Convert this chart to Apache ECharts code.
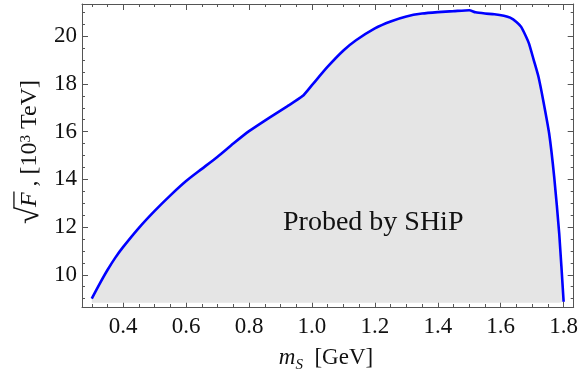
<!DOCTYPE html>
<html>
<head>
<meta charset="utf-8">
<script src="https://cdn.jsdelivr.net/npm/echarts@6/dist/echarts.min.js"></script>
<style>html,body{margin:0;padding:0;background:#fff}#c{width:581px;height:374px}</style>
</head>
<body>
<div id="c"></div>
<script>
// Data
const mS = [0.30,0.325,0.35,0.375,0.40,0.45,0.50,0.55,0.60,0.65,0.70,0.75,0.80,0.865,0.92,0.97,1.00,1.05,1.10,1.14,1.20,1.25,1.30,1.35,1.40,1.45,1.50,1.52,1.55,1.58,1.61,1.63,1.65,1.665,1.68,1.69,1.705,1.72,1.735,1.754,1.77,1.786,1.80];
const sqrtF = [9.0,9.62,10.2,10.72,11.17,11.97,12.68,13.33,13.93,14.44,14.95,15.5,16.02,16.59,17.05,17.49,17.95,18.72,19.4,19.83,20.33,20.62,20.83,20.95,21.01,21.05,21.09,21.0,20.95,20.92,20.86,20.78,20.6,20.39,20.0,19.69,19.0,18.3,17.32,15.92,14.1,11.73,8.87];
const xMajor = [0.4,0.6,0.8,1.0,1.2,1.4,1.6,1.8];
const xMinor = [0.3,0.35,0.45,0.5,0.55,0.65,0.7,0.75,0.85,0.9,0.95,1.05,1.1,1.15,1.25,1.3,1.35,1.45,1.5,1.55,1.65,1.7,1.75];
const yMajor = [10,12,14,16,18,20];
const yMinor = [9,9.5,10.5,11,11.5,12.5,13,13.5,14.5,15,15.5,16.5,17,17.5,18.5,19,19.5,20.5,21];
const xRange = [0.269, 1.832];
const yRange = [8.65, 21.35];
const fillBase = 8.83;
const annotation = 'Probed by SHiP';

const FONT = 'Liberation Serif';
const frameColor = '#555';
const TXT = '#111';

// measure tokens for the y-axis label so the radical's bar covers F
const ctx = document.createElement('canvas').getContext('2d');
function meas(t, size, italic) {
  ctx.font = (italic ? 'italic ' : '') + size + 'px "' + FONT + '"';
  ctx.textBaseline = 'middle';
  return ctx.measureText(t);
}
const RS = 31, NS = 24, SS = 15;
const mR = meas('√', RS), mF = meas('F', NS, true);
const wR = mR.width, wF = mF.width;
const wN1 = meas(' , [10', NS).width, wS = meas('3', SS).width, wN2 = meas(' TeV]', NS).width;
const Wtot = wR + wF + wN1 + wS + wN2;
const barY = -mR.actualBoundingBoxAscent + 0.8;
const barX1 = -Wtot / 2 + mR.actualBoundingBoxRight - 1.5;
const barX2 = -Wtot / 2 + wR + wF + 1;

function mkX(pos, ticks, len, labels, showLine) {
  return {
    type: 'value', position: pos, min: xRange[0], max: xRange[1],
    splitLine: {show: false},
    axisLine: {show: showLine, onZero: false, lineStyle: {color: frameColor, width: 1}},
    axisTick: {show: true, inside: true, length: len, customValues: ticks, lineStyle: {color: frameColor, width: 1}},
    axisLabel: {show: labels, customValues: ticks, margin: 8, color: TXT, fontFamily: FONT, fontSize: 23,
      formatter: v => v.toFixed(1)}
  };
}
function mkY(pos, ticks, len, labels, showLine) {
  return {
    type: 'value', position: pos, min: yRange[0], max: yRange[1],
    splitLine: {show: false},
    axisLine: {show: showLine, onZero: false, lineStyle: {color: frameColor, width: 1}},
    axisTick: {show: true, inside: true, length: len, customValues: ticks, lineStyle: {color: frameColor, width: 1}},
    axisLabel: {show: labels, customValues: ticks, margin: 5, color: TXT, fontFamily: FONT, fontSize: 23,
      formatter: v => String(v)}
  };
}

const chart = echarts.init(document.getElementById('c'), null, {renderer: 'canvas'});
chart.setOption({
  animation: false,
  textStyle: {fontFamily: FONT},
  grid: {left: 82, right: 6, top: 4, bottom: 67},
  xAxis: [
    mkX('bottom', xMajor, 6, true, true),
    mkX('bottom', xMinor, 3, false, false),
    mkX('top', xMajor, 6, false, true),
    mkX('top', xMinor, 3, false, false)
  ],
  yAxis: [
    mkY('left', yMajor, 6, true, true),
    mkY('left', yMinor, 3, false, false),
    mkY('right', yMajor, 6, false, true),
    mkY('right', yMinor, 3, false, false)
  ],
  series: [{
    type: 'line', xAxisIndex: 0, yAxisIndex: 0,
    data: mS.map((x, i) => [x, sqrtF[i]]),
    showSymbol: false, smooth: 0.2,
    lineStyle: {color: '#0000ff', width: 2.6},
    areaStyle: {color: '#e5e5e5', opacity: 1, origin: fillBase},
    z: 1
  }],
  graphic: [
    {
      type: 'text', x: 283, y: 223, z: 100,
      style: {text: annotation, font: '28px "Liberation Serif"', fill: TXT, align: 'left', verticalAlign: 'middle'}
    },
    {
      type: 'text', x: 326, y: 358, z: 100,
      style: {
        text: '{i|m}{sub|S}{n|  [GeV]}', align: 'center', verticalAlign: 'middle',
        rich: {
          i: {fontFamily: FONT, fontStyle: 'italic', fontSize: 23, fill: TXT, lineHeight: 30},
          sub: {fontFamily: FONT, fontStyle: 'italic', fontSize: 15, fill: TXT, lineHeight: 15, verticalAlign: 'bottom'},
          n: {fontFamily: FONT, fontSize: 23, fill: TXT, lineHeight: 30}
        }
      }
    },
    {
      type: 'group', x: 30, y: 152, rotation: Math.PI / 2, z: 100,
      children: [
        {
          type: 'text', x: 0, y: 0,
          style: {
            text: '{r|√}{f|F}{n| , [10}{s|3}{n| TeV]}', align: 'center', verticalAlign: 'middle',
            rich: {
              r: {fontFamily: FONT, fontSize: RS, fill: TXT, lineHeight: 32},
              f: {fontFamily: FONT, fontStyle: 'italic', fontSize: NS, fill: TXT, lineHeight: 32},
              n: {fontFamily: FONT, fontSize: NS, fill: TXT, lineHeight: 32},
              s: {fontFamily: FONT, fontSize: SS, fill: TXT, lineHeight: 15, verticalAlign: 'top', padding: [5, 0, 0, 0]}
            }
          }
        },
        {
          type: 'line', shape: {x1: barX1, y1: barY, x2: barX2, y2: barY},
          style: {stroke: TXT, lineWidth: 1.3}
        }
      ]
    }
  ]
});
</script>
</body>
</html>
